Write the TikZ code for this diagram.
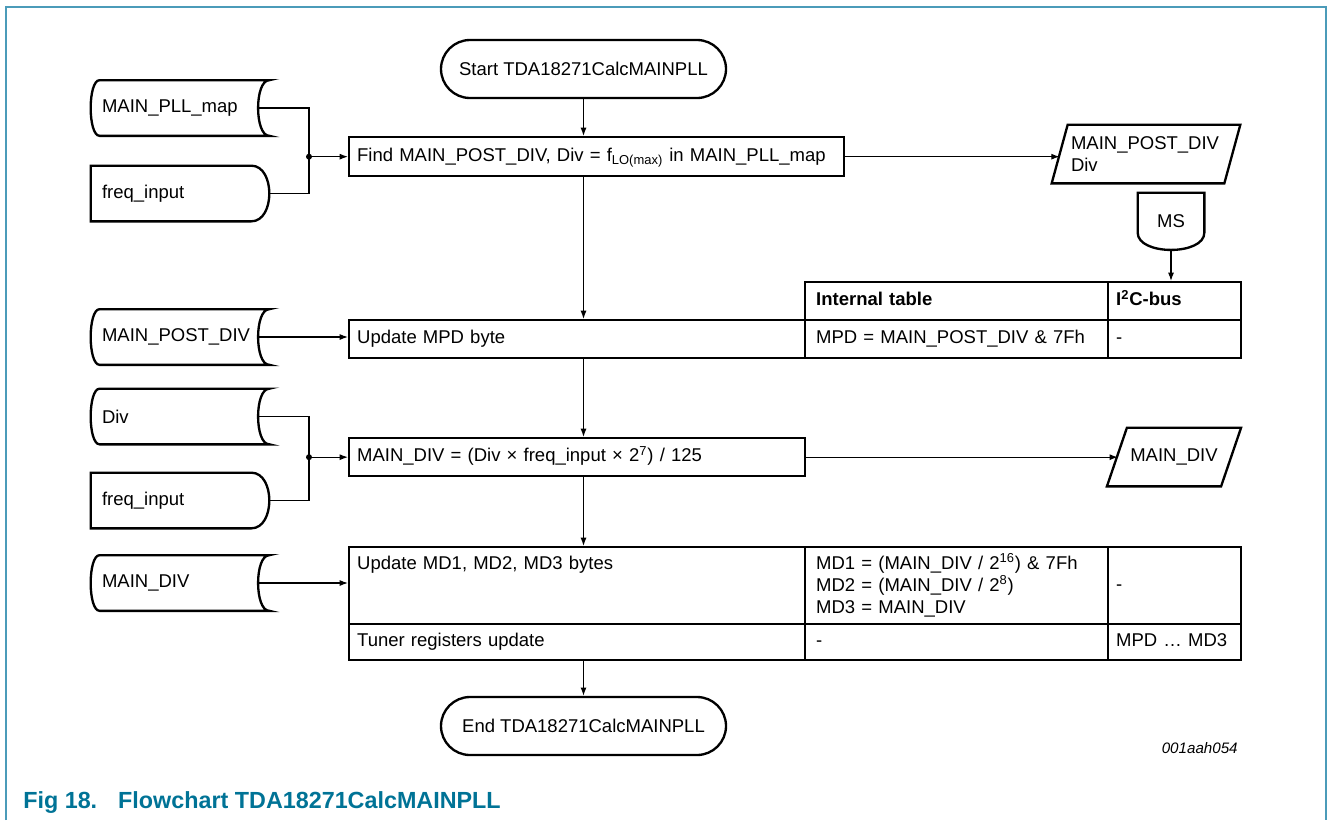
\documentclass[tikz,border=0pt]{standalone}
\usepackage{fontspec}
\setmainfont{Liberation Sans}
\usetikzlibrary{calc,arrows.meta}
\definecolor{figblue}{RGB}{0,115,150}
\definecolor{frameblue}{RGB}{75,155,185}
\newcommand{\storeddata}[1]
{   \draw[shp] ($(#1.north west)+(9,0)$) -- (#1.north east)
      .. controls ($(#1.north east)+(-15,0)$) and ($(#1.south east)+(-15,0)$) .. (#1.south east)
      -- ($(#1.south west)+(9,0)$)
      .. controls ($(#1.south west)+(-3,0)$) and ($(#1.north west)+(-3,0)$) .. ($(#1.north west)+(9,0)$) -- cycle;
    \coordinate (#1-out) at ($(#1.east)+(-11,0)$);
}
\newcommand{\delayshape}[1]
{   \draw[shp] (#1.north west) -- ($(#1.north east)+(-18,0)$)
      .. controls ($(#1.north east)+(6,0)$) and ($(#1.south east)+(6,0)$) .. ($(#1.south east)+(-18,0)$)
      -- (#1.south west) -- cycle;
}
\newcommand{\msshape}[1]
{   \draw[shp] (#1.north west) -- (#1.north east) -- ($(#1.north east)+(0,40)$)
      .. controls ($(#1.north east)+(0,63)$) and ($(#1.north west)+(0,63)$) .. ($(#1.north west)+(0,40)$) -- cycle;
}
\newcommand{\ioshape}[2]
{   \draw[shp] ($(#1.north west)+(#2,0)$) -- ($(#1.north east)+(#2,0)$)
      -- ($(#1.south east)-(#2,0)$) -- ($(#1.south west)-(#2,0)$) -- cycle;
}

\begin{document}
\begin{tikzpicture}[x=0.6pt,y=-0.6pt,
  font=\fontsize{11.1}{13.2}\selectfont,
  shp/.style={line width=1.4pt},
  box/.style={draw,line width=1.4pt,anchor=north west,inner xsep=4.8pt,inner ysep=0pt,align=left,
    text width=#1,text height=8.1pt,text depth=2.4pt},
  toprow/.style={text height=13.2pt,text depth=33pt},
  term/.style={draw,line width=1.4pt,rounded corners=17.4pt,minimum width=171pt,minimum height=34.8pt},
  store/.style={minimum width=106.8pt,minimum height=33pt,inner xsep=6.6pt,text width=93.6pt,align=left},
  con/.style={line width=0.7pt},
  arr/.style={con,-{Latex[length=5pt,width=3.6pt]}}]

 \useasboundingbox (0,0) rectangle (1327,820);
 \draw[frameblue,line width=1.2pt] (6,820) -- (6,6.5) -- (1326,6.5) -- (1326,820);

 % main column
 \node[term] (start) at (583.5,69) {Start TDA18271CalcMAINPLL};
 \node[box=287.4pt,minimum height=23.4pt] (find) at (348,136) {Find MAIN\_POST\_DIV, Div = f\textsubscript{LO(max)} in MAIN\_PLL\_map};
 \node[box=264pt,minimum height=22.8pt] (mpd) at (348,319) {Update MPD byte};
 \node[box=264pt,minimum height=22.8pt] (mdiv) at (348,437) {MAIN\_DIV = (Div × freq\_input × 2\textsuperscript{7}) / 125};
 \node[box=264pt,toprow,minimum height=46.2pt] (mdupd) at (348,546) {Update MD1, MD2, MD3 bytes};
 \node[box=264pt,minimum height=21.6pt] (tuner) at (348,623) {Tuner registers update};
 \node[term] (end) at (583.5,726) {End TDA18271CalcMAINPLL};

 % tables
 \node[box=168.6pt,inner xsep=6.6pt,minimum height=22.8pt] (inthead) at (804,281) {\bfseries Internal table};
 \node[box=70.2pt,minimum height=22.8pt] (i2chead) at (1107,281) {\bfseries I\textsuperscript{2}C-bus};
 \node[box=168.6pt,inner xsep=6.6pt,minimum height=22.8pt] (mpdint) at (804,319) {MPD = MAIN\_POST\_DIV \& 7Fh};
 \node[box=70.2pt,minimum height=22.8pt] (mpdbus) at (1107,319) {-};
 \node[box=168.6pt,inner xsep=6.6pt,toprow,minimum height=46.2pt] (mdint) at (804,546)
   {MD1 = (MAIN\_DIV / 2\textsuperscript{16}) \& 7Fh\\MD2 = (MAIN\_DIV / 2\textsuperscript{8})\\MD3 = MAIN\_DIV};
 \node[box=70.2pt,minimum height=46.2pt] (mdbus) at (1107,546) {-};
 \node[box=168.6pt,inner xsep=6.6pt,minimum height=21.6pt] (tunint) at (804,623) {-};
 \node[box=70.2pt,minimum height=21.6pt] (tunbus) at (1107,623) {MPD … MD3};

 % data
 \node[store] (pllmap) at (180,108) {MAIN\_PLL\_map}; \storeddata{pllmap}
 \node[store] (freq1) at (180,193.5) {freq\_input}; \delayshape{freq1}
 \node[store] (postdiv) at (180,337) {MAIN\_POST\_DIV}; \storeddata{postdiv}
 \node[store] (div) at (180,416.5) {Div}; \storeddata{div}
 \node[store] (freq2) at (180,500.5) {freq\_input}; \delayshape{freq2}
 \node[store] (maindivs) at (180,583) {MAIN\_DIV}; \storeddata{maindivs}

 \node[minimum width=103.2pt,minimum height=34.8pt,inner xsep=6.6pt,text width=90pt,align=left] (io1) at (1146,154) {MAIN\_POST\_DIV\\Div}; \ioshape{io1}{8}
 \node[minimum width=68.1pt,minimum height=34.8pt] (io2) at (1174,457) {MAIN\_DIV}; \ioshape{io2}{10}
 \node[minimum width=39.6pt,minimum height=34.2pt] (ms) at (1171,221.5) {MS}; \msshape{ms}

 % connectors
 \coordinate (j1) at ($(find.west)+(-39,0)$);
 \coordinate (j2) at ($(mdiv.west)+(-39,0)$);
 \draw[con] (pllmap-out) -| (j1);
 \draw[con] (freq1.east) -| (j1);
 \fill (j1) circle (1.8pt);
 \draw[arr] (j1) -- (find.west);
 \draw[con] (div-out) -| (j2);
 \draw[con] (freq2.east) -| (j2);
 \fill (j2) circle (1.8pt);
 \draw[arr] (j2) -- (mdiv.west);

 \draw[arr] (start.south) -- (start.south |- find.north);
 \draw[arr] (find.south -| start) -- (mpd.north -| start);
 \draw[arr] (mpd.south -| start) -- (mdiv.north -| start);
 \draw[arr] (mdiv.south -| start) -- (mdupd.north -| start);
 \draw[arr] (tuner.south -| start) -- (end.north);
 \draw[arr] (find.east) -- (find.east -| io1.west);
 \draw[arr] (mdiv.east) -- ($(mdiv.east -| io2.west)+(1,0)$);
 \draw[arr] (ms.south) -- (ms.south |- i2chead.north);
 \draw[arr] (postdiv-out) -- (postdiv-out -| mpd.west);
 \draw[arr] (maindivs-out) -- (maindivs-out -| mdupd.west);

 \node[anchor=base east,inner sep=0pt,font=\fontsize{9.1}{11}\selectfont\itshape] (figid) at (1238,753) {001aah054};
 \node[anchor=base west,inner sep=0pt,text=figblue,font=\fontsize{14}{16}\selectfont\bfseries] (caption) at (23,808)
   {Fig 18.\hspace{12.6pt}Flowchart TDA18271CalcMAINPLL};

\end{tikzpicture}
\end{document}
